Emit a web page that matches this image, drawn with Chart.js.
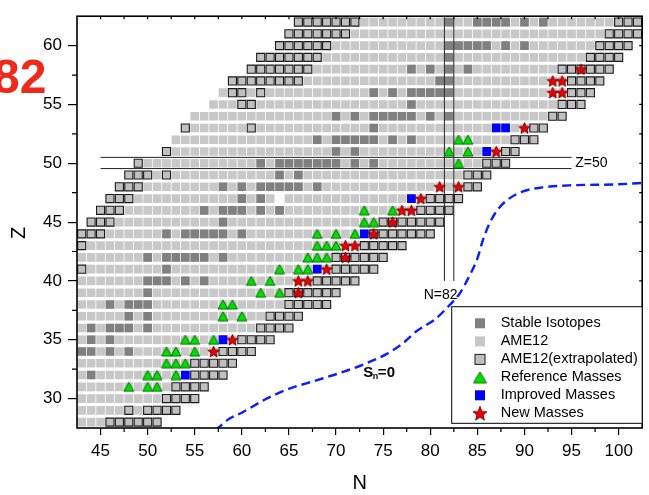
<!DOCTYPE html>
<html>
<head>
<meta charset="utf-8">
<script src="https://cdn.jsdelivr.net/npm/chart.js@4.4.1/dist/chart.umd.min.js"></script>
<style>
    html, body { margin: 0; padding: 0; background: #fff; }
    #wrap { width: 649px; height: 495px; }
</style>
</head>
<body>
<div id="wrap"><canvas id="nuclideChart" width="649" height="495"></canvas></div>
<script>
const xTicks = [45, 50, 55, 60, 65, 70, 75, 80, 85, 90, 95, 100];
const yTicks = [30, 35, 40, 45, 50, 55, 60];

// [Z, first N, last N]
const ame12Ranges = [
    [28, 43, 45], [29, 43, 47], [29, 49, 49], [30, 43, 51], [31, 43, 52],
    [32, 43, 54], [33, 43, 54], [34, 43, 57], [35, 43, 59], [36, 43, 61],
    [37, 43, 62], [38, 43, 64], [39, 43, 64], [40, 43, 67], [41, 44, 69],
    [42, 43, 69], [43, 44, 72], [44, 46, 73], [45, 47, 74], [46, 48, 78],
    [47, 49, 63], [47, 65, 79], [48, 50, 83], [49, 51, 51], [49, 53, 83],
    [50, 50, 85], [51, 53, 87], [52, 53, 88], [53, 55, 60], [53, 62, 90],
    [54, 55, 92], [55, 57, 59], [55, 62, 93], [56, 58, 58], [56, 61, 61],
    [56, 63, 94], [57, 67, 94], [58, 68, 93], [59, 69, 96], [60, 70, 97],
    [61, 72, 98], [62, 73, 99]
];

const extrapolatedRanges = [
    [28, 46, 51], [29, 48, 48], [29, 50, 53], [30, 52, 55], [31, 53, 56],
    [32, 55, 58], [33, 55, 59], [34, 58, 61], [35, 60, 63], [36, 62, 65],
    [37, 63, 66], [38, 65, 69], [39, 65, 70], [40, 68, 72], [41, 43, 43],
    [41, 70, 74], [42, 70, 75], [43, 43, 43], [43, 73, 77], [44, 43, 45],
    [44, 74, 80], [45, 44, 46], [45, 75, 81], [46, 45, 47], [46, 79, 82],
    [47, 46, 48], [47, 80, 83], [48, 47, 49], [48, 84, 85], [49, 48, 50],
    [49, 52, 52], [49, 84, 86], [50, 49, 49], [50, 86, 88], [51, 52, 52],
    [51, 88, 89], [52, 89, 91], [53, 54, 54], [53, 61, 61], [53, 91, 92],
    [54, 93, 94], [55, 60, 61], [55, 94, 96], [56, 59, 60], [56, 62, 62],
    [56, 95, 97], [57, 59, 66], [57, 95, 98], [58, 61, 67], [58, 94, 99],
    [59, 62, 68], [59, 97, 100], [60, 64, 69], [60, 98, 101], [61, 65, 71],
    [61, 99, 102], [62, 66, 72], [62, 100, 102]
];

// [Z, [N...]]
const stableIsotopes = [
    [32, [44]], [34, [43, 44, 46, 48]], [35, [44, 46]], [36, [44, 46, 47, 48, 50]],
    [37, [48, 50]], [38, [46, 48, 49, 50]], [39, [50]], [40, [50, 51, 52, 54, 56]],
    [41, [52]], [42, [50, 52, 53, 54, 55, 56, 58]], [44, [52, 54, 55, 56, 57, 58, 60]],
    [45, [58]], [46, [56, 58, 59, 60, 62, 64]], [47, [60, 62]],
    [48, [58, 60, 62, 63, 64, 65, 66, 68]], [49, [64, 66]],
    [50, [62, 64, 65, 66, 67, 68, 69, 70, 72, 74]], [51, [70, 72]],
    [52, [68, 70, 71, 72, 73, 74, 76, 78]], [53, [74]],
    [54, [70, 72, 74, 75, 76, 77, 78, 80, 82]], [55, [78]],
    [56, [74, 76, 78, 79, 80, 81, 82]], [57, [81, 82]], [58, [78, 80, 82, 84]],
    [59, [82]], [60, [82, 83, 84, 85, 86, 88, 90]], [62, [82, 85, 86, 87, 88, 90, 92]]
];

// [N, Z]
const referenceMasses = [
    [48, 31], [50, 31], [51, 31], [50, 32], [51, 32], [53, 32], [52, 33], [53, 33],
    [54, 33], [52, 34], [53, 34], [55, 34], [54, 35], [55, 35], [57, 35], [58, 37],
    [60, 37], [58, 38], [59, 38], [62, 39], [64, 39], [61, 40], [63, 40], [64, 41],
    [66, 41], [67, 41], [67, 42], [68, 42], [69, 42], [68, 43], [69, 43], [70, 43],
    [68, 44], [70, 44], [72, 44], [73, 45], [74, 45], [73, 46], [76, 46], [83, 50],
    [82, 51], [84, 51], [83, 52], [84, 52]
];
const improvedMasses = [[54, 32], [58, 35], [68, 41], [73, 44], [78, 47], [86, 51], [87, 53], [88, 53]];
const newMasses = [
    [57, 34], [59, 35], [66, 39], [66, 40], [67, 40], [69, 41], [71, 42], [71, 43],
    [72, 43], [74, 44], [76, 45], [77, 46], [78, 46], [79, 47], [81, 48], [83, 48],
    [87, 51], [90, 53], [93, 56], [94, 56], [93, 57], [94, 57], [96, 58]
];

const snZeroN = [57.2, 58.7, 60.0, 62.4, 64.9, 67.7, 70.5, 72.9, 75.4, 77.1, 78.5, 80.6, 82.0, 83.1, 84.2, 85.0, 85.6, 86.3, 87.1, 88.2, 89.8, 91.9, 95.0, 99.6, 102.5];
const snZeroZ = [27.3, 28.3, 28.8, 29.9, 30.8, 31.5, 32.2, 32.9, 33.8, 34.7, 35.7, 36.8, 37.9, 38.9, 40.5, 41.9, 43.5, 44.9, 46.0, 46.9, 47.6, 47.95, 48.13, 48.2, 48.33];

const z50LineZ = [50.5, 49.55];
const z50LineN = [45, 95];
const n82LineN = [81.5, 82.5];
const n82LineZ = [40, 62.5];

const FONT = "'Liberation Sans', Arial, sans-serif";

const rangePoints = (ranges) => ranges.flatMap(([z, first, last]) => {
    const pts = [];
    for (let n = first; n <= last; n++) pts.push({ x: n, y: z });
    return pts;
});
const pairPoints = (list) => list.map(([n, z]) => ({ x: n, y: z }));

const makeStar = (r) => {
    const s = Math.ceil(r * 2 + 3);
    const c = document.createElement('canvas');
    c.width = s;
    c.height = s;
    const g = c.getContext('2d');
    g.beginPath();
    for (let i = 0; i < 10; i++) {
        const rr = i % 2 ? r * 0.42 : r;
        const ang = -Math.PI / 2 + i * Math.PI / 5;
        g.lineTo(s / 2 + rr * Math.cos(ang), s / 2 + r * 0.1 + rr * Math.sin(ang));
    }
    g.closePath();
    g.fillStyle = '#ee0000';
    g.fill();
    g.lineWidth = 1;
    g.strokeStyle = '#800000';
    g.stroke();
    return c;
};

const makeTriangle = (w, h) => {
    const c = document.createElement('canvas');
    c.width = w + 2;
    c.height = h + 2;
    const g = c.getContext('2d');
    g.beginPath();
    g.moveTo(c.width / 2, 1);
    g.lineTo(c.width - 1, h + 1);
    g.lineTo(1, h + 1);
    g.closePath();
    g.fillStyle = '#00e000';
    g.fill();
    g.lineWidth = 1;
    g.strokeStyle = '#007000';
    g.stroke();
    return c;
};

const starImg = makeStar(6);
const starLegendImg = makeStar(7.5);
const triImg = makeTriangle(10, 9);
const triLegendImg = makeTriangle(13, 11);

const lineSet = (data, order) => ({
    data,
    showLine: true,
    borderColor: '#222',
    borderWidth: 1,
    pointRadius: 0,
    clip: 0,
    order
});

const decorPlugin = {
    id: 'decor',
    afterDatasetsDraw(chart) {
        const { ctx, chartArea: a, scales: { x, y } } = chart;
        ctx.save();

        // minor / mirrored ticks
        const xMinor = xTicks.map(v => v + 2.5).filter(v => v < x.max);
        const yMinor = yTicks.map(v => v + 2.5).filter(v => v < y.max);
        ctx.strokeStyle = '#000';
        ctx.lineWidth = 1.2;
        ctx.beginPath();
        xMinor.forEach(v => {
            const px = x.getPixelForValue(v);
            ctx.moveTo(px, a.bottom);
            ctx.lineTo(px, a.bottom + 4);
        });
        yMinor.forEach(v => {
            const py = y.getPixelForValue(v);
            ctx.moveTo(a.left, py);
            ctx.lineTo(a.left - 5, py);
        });
        [...xTicks, ...xMinor].forEach(v => {
            const px = x.getPixelForValue(v);
            ctx.moveTo(px, a.top);
            ctx.lineTo(px, a.top + 3);
        });
        [...yTicks, ...yMinor].forEach(v => {
            const py = y.getPixelForValue(v);
            ctx.moveTo(a.right, py);
            ctx.lineTo(a.right - 3, py);
        });
        ctx.stroke();

        ctx.lineWidth = 1.6;
        ctx.strokeRect(a.left, a.top, a.right - a.left, a.bottom - a.top);

        // in-plot labels
        ctx.fillStyle = '#000';
        ctx.font = `14px ${FONT}`;
        ctx.textBaseline = 'middle';
        ctx.textAlign = 'left';
        ctx.fillText('Z=50', x.getPixelForValue(95.4), y.getPixelForValue(50));
        ctx.textAlign = 'center';
        ctx.fillText('N=82', x.getPixelForValue(81.1), y.getPixelForValue(38.8));

        const sx = x.getPixelForValue(72.9);
        const sy = y.getPixelForValue(32.2);
        ctx.textAlign = 'left';
        ctx.font = `bold 15px ${FONT}`;
        ctx.fillText('S', sx, sy);
        const sw = ctx.measureText('S').width;
        ctx.font = `bold 9px ${FONT}`;
        ctx.fillText('n', sx + sw - 0.5, sy + 4);
        const nw = ctx.measureText('n').width;
        ctx.font = `bold 15px ${FONT}`;
        ctx.fillText('=0', sx + sw + nw - 1, sy);

        // axis titles
        ctx.font = `20px ${FONT}`;
        ctx.textAlign = 'center';
        ctx.fillText('N', (a.left + a.right) / 2, 483);
        ctx.save();
        ctx.translate(19, 233);
        ctx.rotate(-Math.PI / 2);
        ctx.fillText('Z', 0, 0);
        ctx.restore();

        // partial red label at the top left
        ctx.fillStyle = '#ee2a1a';
        ctx.font = `bold 48px ${FONT}`;
        ctx.textAlign = 'right';
        ctx.textBaseline = 'alphabetic';
        ctx.fillText('82', 46.5, 93);

        // legend box
        const bx = 451.7, by = 306.7, bw = a.right - 451.7, bh = 116.6;
        ctx.fillStyle = '#fff';
        ctx.fillRect(bx, by, bw, bh);
        ctx.strokeStyle = '#000';
        ctx.lineWidth = 1;
        ctx.strokeRect(bx, by, bw, bh);

        const mx = 480, tx = 500.7;
        const rows = [323.3, 341.4, 359.4, 377.3, 395.3, 413.2];
        const labels = ['Stable Isotopes', 'AME12', 'AME12(extrapolated)', 'Reference Masses', 'Improved Masses', 'New Masses'];
        ctx.fillStyle = '#808080';
        ctx.fillRect(mx - 5, rows[0] - 5, 10, 10);
        ctx.fillStyle = '#c8c8c8';
        ctx.fillRect(mx - 5, rows[1] - 5, 10, 10);
        ctx.fillStyle = '#c0c0c0';
        ctx.fillRect(mx - 5, rows[2] - 5, 10, 10);
        ctx.strokeStyle = '#1a1a1a';
        ctx.strokeRect(mx - 5, rows[2] - 5, 10, 10);
        ctx.drawImage(triLegendImg, mx - triLegendImg.width / 2, rows[3] - triLegendImg.height / 2);
        ctx.fillStyle = '#0000ff';
        ctx.fillRect(mx - 5, rows[4] - 5, 10, 10);
        ctx.drawImage(starLegendImg, mx - starLegendImg.width / 2, rows[5] - starLegendImg.height / 2);

        ctx.fillStyle = '#000';
        ctx.font = `14.5px ${FONT}`;
        ctx.textAlign = 'left';
        ctx.textBaseline = 'middle';
        labels.forEach((t, i) => ctx.fillText(t, tx, rows[i]));

        ctx.restore();
    }
};

new Chart(document.getElementById('nuclideChart'), {
    type: 'scatter',
    data: {
        datasets: [
            {
                label: 'New Masses',
                data: pairPoints(newMasses),
                pointStyle: starImg,
                pointRadius: 5,
                clip: 0,
                order: 1
            },
            {
                label: 'Improved Masses',
                data: pairPoints(improvedMasses),
                pointStyle: 'rect',
                pointRadius: 6.2,
                backgroundColor: '#0000ff',
                borderWidth: 0,
                clip: 0,
                order: 2
            },
            {
                label: 'Reference Masses',
                data: pairPoints(referenceMasses),
                pointStyle: triImg,
                pointRadius: 5,
                clip: 0,
                order: 3
            },
            {
                label: 'Sn=0',
                data: snZeroN.map((n, i) => ({ x: n, y: snZeroZ[i] })),
                showLine: true,
                borderColor: '#0a1eff',
                borderWidth: 2.4,
                borderDash: [9, 5],
                cubicInterpolationMode: 'monotone',
                pointRadius: 0,
                clip: 0,
                order: 4
            },
            lineSet(z50LineN.map(n => ({ x: n, y: z50LineZ[0] })), 5),
            lineSet(z50LineN.map(n => ({ x: n, y: z50LineZ[1] })), 5),
            lineSet(n82LineZ.map(z => ({ x: n82LineN[0], y: z })), 5),
            lineSet(n82LineZ.map(z => ({ x: n82LineN[1], y: z })), 5),
            {
                label: 'AME12(extrapolated)',
                data: rangePoints(extrapolatedRanges),
                pointStyle: 'rect',
                pointRadius: 5.7,
                backgroundColor: '#c0c0c0',
                borderColor: '#1a1a1a',
                borderWidth: 1.1,
                clip: 0,
                order: 7
            },
            {
                label: 'Stable Isotopes',
                data: stableIsotopes.flatMap(([z, ns]) => ns.map(n => ({ x: n, y: z }))),
                pointStyle: 'rect',
                pointRadius: 6.1,
                backgroundColor: '#808080',
                borderWidth: 0,
                clip: 0,
                order: 8
            },
            {
                label: 'AME12',
                data: rangePoints(ame12Ranges),
                pointStyle: 'rect',
                pointRadius: 6.1,
                backgroundColor: '#c8c8c8',
                borderWidth: 0,
                clip: 0,
                order: 9
            }
        ]
    },
    options: {
        responsive: false,
        devicePixelRatio: 1,
        animation: false,
        events: [],
        layout: { padding: { top: 9, right: 1, left: 0, bottom: 0 } },
        scales: {
            x: {
                type: 'linear',
                min: 42.5,
                max: 102.5,
                afterBuildTicks: (s) => { s.ticks = xTicks.map(v => ({ value: v })); },
                afterFit: (s) => { s.height = 67; },
                grid: { display: true, drawOnChartArea: false, drawTicks: true, tickLength: 7, color: '#000', lineWidth: 1.2 },
                border: { display: false },
                ticks: { autoSkip: false, maxRotation: 0, padding: 6, color: '#000', font: { family: FONT, size: 17 } }
            },
            y: {
                type: 'linear',
                min: 27.5,
                max: 62.5,
                afterBuildTicks: (s) => { s.ticks = yTicks.map(v => ({ value: v })); },
                afterFit: (s) => { s.width = 77; },
                grid: { display: true, drawOnChartArea: false, drawTicks: true, tickLength: 9, color: '#000', lineWidth: 1.2 },
                border: { display: false },
                ticks: { autoSkip: false, padding: 6, color: '#000', font: { family: FONT, size: 17 } }
            }
        },
        plugins: {
            legend: { display: false },
            tooltip: { enabled: false }
        }
    },
    plugins: [decorPlugin]
});
</script>
</body>
</html>
